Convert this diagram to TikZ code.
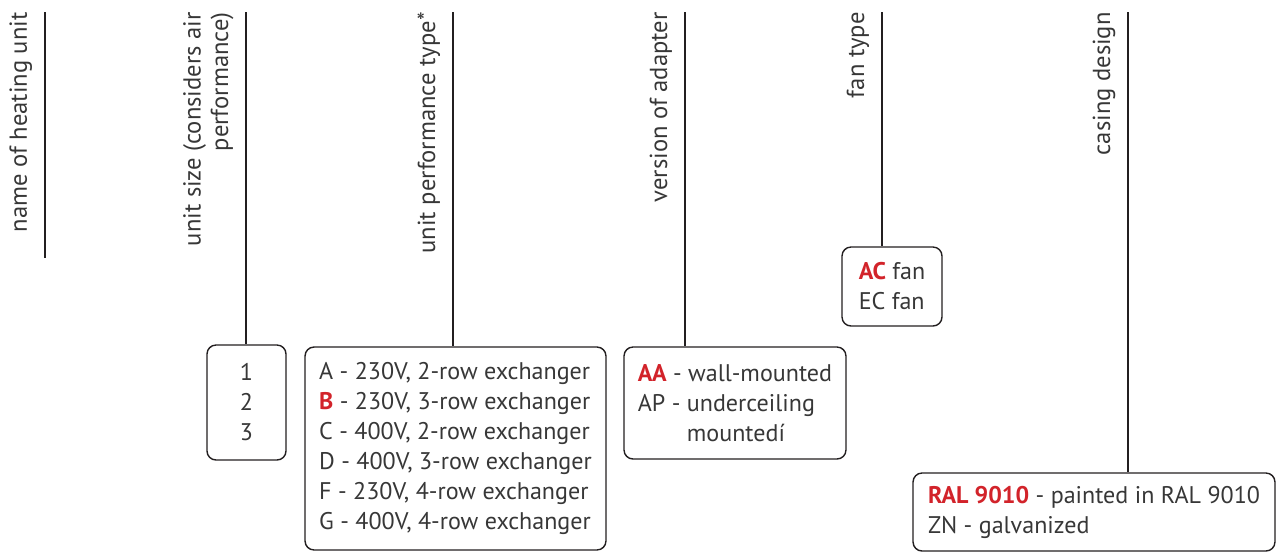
\documentclass[tikz,border=0pt]{standalone}
\usepackage{fontspec}
\setmainfont{PT Sans}
\usetikzlibrary{positioning}
\definecolor{LineColor}{RGB}{35,31,32}
\definecolor{TextGray}{RGB}{55,55,55}
\definecolor{CodeRed}{RGB}{210,35,42}
\newcommand{\code}[1]{\textcolor{CodeRed}{\textbf{#1}}}

\begin{document}
\begin{tikzpicture}[x=0.02cm, y=-0.02cm,
    optbox/.style={draw=LineColor, line width=0.8pt, rounded corners=0.18cm, inner sep=0pt,
      align=left, text=TextGray, font=\fontsize{13.7}{17.07}\selectfont},
    headlabel/.style={rotate=90, anchor=base east, inner sep=0pt, text=TextGray,
      font=\fontsize{14}{15.6}\selectfont},
    lead/.style={draw=LineColor, line width=0.8pt}]
  \useasboundingbox (0,0) rectangle (1279,552);

  % tops of the leader lines
  \coordinate (t1) at (45,12);
  \coordinate (e1) at (45,258);
  \coordinate (t2) at (246,12);
  \coordinate (t3) at (453,12);
  \coordinate (t4) at (685,12);
  \coordinate (t5) at (882,12);
  \coordinate (t6) at (1128,12);

  % rotated headings
  \node[headlabel] (lname) at (27,12) {name of heating unit};
  \node[headlabel, align=right] (lsize) at (228,12) {unit size (considers air\\performance)};
  \node[headlabel] (lperf) at (435,12) {unit performance type*};
  \node[headlabel] (ladapt) at (667,12) {version of adapter};
  \node[headlabel] (lfan) at (864,12) {fan type};
  \node[headlabel] (lcase) at (1110,12) {casing design};

  % option boxes
  \node[optbox, align=center, minimum width=1.58cm, minimum height=2.3cm] (nums) at (246.5,402.5) {1\\2\\3};
  \node[optbox, minimum width=6.02cm, minimum height=4.06cm] (perf) at (455.5,448.5)
    {A - 230V, 2-row exchanger\\\code{B} - 230V, 3-row exchanger\\C - 400V, 2-row exchanger\\
     D - 400V, 3-row exchanger\\F - 230V, 4-row exchanger\\G - 400V, 4-row exchanger};
  \node[optbox, minimum width=4.44cm, minimum height=2.24cm] (adapt) at (735,403)
    {\code{AA} - wall-mounted\\AP - underceiling\\\hphantom{AP - }mountedí};
  \node[optbox, minimum width=2.0cm, minimum height=1.58cm] (fan) at (892,286.5)
    {\code{AC} fan\\EC fan};
  \node[optbox, minimum width=7.24cm, minimum height=1.56cm] (case) at (1094,512)
    {\code{RAL 9010} - painted in RAL 9010\\ZN - galvanized};

  % leader lines
  \draw[lead] (t1) -- (e1);
  \draw[lead] (t2) -- (t2 |- nums.north);
  \draw[lead] (t3) -- (t3 |- perf.north);
  \draw[lead] (t4) -- (t4 |- adapt.north);
  \draw[lead] (t5) -- (t5 |- fan.north);
  \draw[lead] (t6) -- (t6 |- case.north);
\end{tikzpicture}
\end{document}
